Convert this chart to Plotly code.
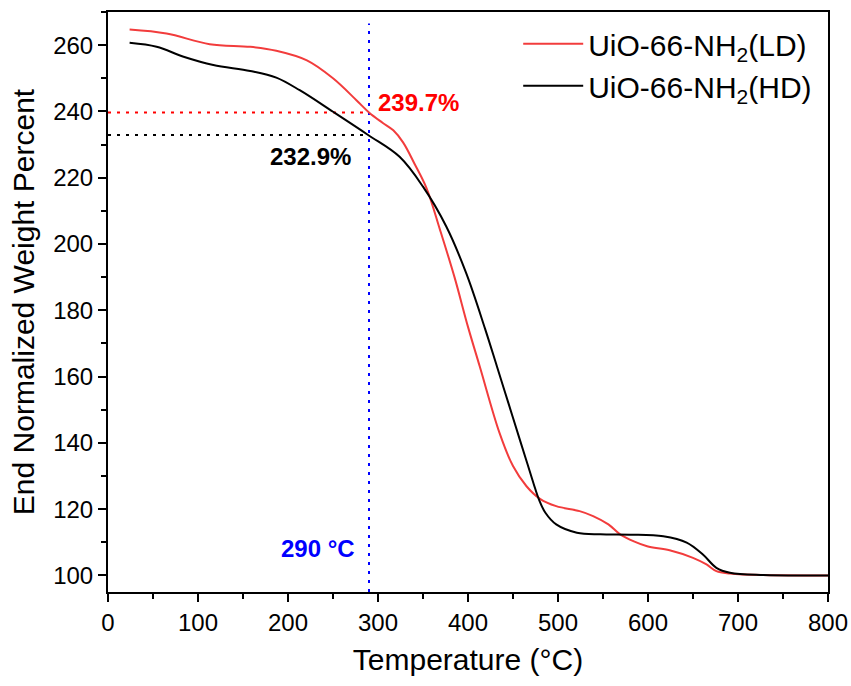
import plotly.graph_objects as go

# LD series (red)
ld_temp = [24, 65, 113, 158, 187, 221, 250, 276, 290, 305, 317, 328, 341, 354, 369, 385,
           400, 413, 435, 450, 465, 480, 498, 524, 539, 556, 569, 585, 599, 624, 650, 665,
           676, 691, 728, 800]
ld_weight = [264.7, 263.5, 260.3, 259.5, 258.3, 255.4, 250.0, 243.4, 239.7, 236.6, 234.3,
             230.6, 224.0, 216.8, 204.2, 190.0, 175.0, 163.1, 143.0, 133.0, 126.9, 123.1,
             120.9, 119.4, 117.9, 115.4, 112.4, 110.2, 108.8, 107.6, 105.3, 103.3, 101.3,
             100.6, 100.1, 100.0]

# HD series (black)
hd_temp = [24, 54, 84, 117, 158, 187, 213, 250, 289, 324, 350, 376, 398, 419, 432, 445,
           458, 466, 473, 479, 486, 498, 521, 547, 580, 617, 643, 661, 676, 691, 728, 800]
hd_weight = [260.7, 259.5, 256.5, 254.0, 252.2, 250.2, 246.4, 239.9, 232.9, 226.3, 217.3,
             205.2, 191.2, 174.4, 163.2, 151.9, 140.6, 133.7, 127.6, 122.8, 118.9, 115.4,
             112.9, 112.4, 112.3, 111.8, 109.9, 106.3, 102.3, 100.8, 100.1, 100.0]

series_names = ["UiO-66-NH<sub>2</sub>(LD)", "UiO-66-NH<sub>2</sub>(HD)"]

# reference markers
marker_temp = 290
ld_at_marker = 239.7
hd_at_marker = 232.9
x_range = [0, 800]
y_range = [95, 270]
vline_top = 266.5

FONT = "Arial, Liberation Sans, sans-serif"

fig = go.Figure()

# guide lines
fig.add_trace(go.Scatter(x=[x_range[0], marker_temp], y=[ld_at_marker, ld_at_marker],
                         mode="lines", line=dict(color="#FF0000", width=2, dash="3px,6px"),
                         showlegend=False, hoverinfo="skip"))
fig.add_trace(go.Scatter(x=[x_range[0], marker_temp], y=[hd_at_marker, hd_at_marker],
                         mode="lines", line=dict(color="#000000", width=2, dash="3px,6px"),
                         showlegend=False, hoverinfo="skip"))
fig.add_trace(go.Scatter(x=[marker_temp, marker_temp], y=[y_range[0], vline_top],
                         mode="lines", line=dict(color="#0000FF", width=2, dash="3px,6px"),
                         showlegend=False, hoverinfo="skip"))

fig.add_trace(go.Scatter(x=ld_temp, y=ld_weight, mode="lines", name=series_names[0],
                         line=dict(color="#F23C3C", width=2, shape="spline", smoothing=1.0)))
fig.add_trace(go.Scatter(x=hd_temp, y=hd_weight, mode="lines", name=series_names[1],
                         line=dict(color="#000000", width=2, shape="spline", smoothing=1.0)))

fig.add_annotation(x=297.5, y=242.7, text="<b>%.1f%%</b>" % ld_at_marker, showarrow=False,
                   xanchor="left", yanchor="middle",
                   font=dict(family=FONT, size=24, color="#FF0000"))
fig.add_annotation(x=272, y=226.5, text="<b>%.1f%%</b>" % hd_at_marker, showarrow=False,
                   xanchor="right", yanchor="middle",
                   font=dict(family=FONT, size=24, color="#000000"))
fig.add_annotation(x=276.5, y=108.1, text="<b>%d °C</b>" % marker_temp, showarrow=False,
                   xanchor="right", yanchor="middle",
                   font=dict(family=FONT, size=24, color="#0000FF"))

axis_common = dict(showgrid=False, zeroline=False, showline=True, linecolor="black",
                   linewidth=2, mirror=True, ticks="outside", ticklen=8, tickwidth=2,
                   tickcolor="black",
                   tickfont=dict(family=FONT, size=24, color="black"))

fig.update_layout(
    width=851, height=686,
    margin=dict(l=108, r=23, t=12, b=94, autoexpand=False),
    plot_bgcolor="white", paper_bgcolor="white",
    xaxis=dict(range=x_range, dtick=100,
               minor=dict(ticks="outside", ticklen=5, tickwidth=2, tickcolor="black", dtick=50),
               title=dict(text="Temperature (°C)", standoff=14,
                          font=dict(family=FONT, size=30, color="black")),
               **axis_common),
    yaxis=dict(range=y_range, tickvals=[100, 120, 140, 160, 180, 200, 220, 240, 260],
               minor=dict(ticks="outside", ticklen=5, tickwidth=2, tickcolor="black",
                          tickvals=[110, 130, 150, 170, 190, 210, 230, 250, 270]),
               title=dict(text="End Normalized Weight Percent", standoff=10,
                          font=dict(family=FONT, size=30, color="black")),
               **axis_common),
    legend=dict(x=0.985, y=0.99, xanchor="right", yanchor="top",
                bgcolor="rgba(0,0,0,0)", borderwidth=0,
                font=dict(family=FONT, size=30, color="black"),
                tracegroupgap=0, itemwidth=60),
    showlegend=True,
)

fig.write_html("out.html", config={"displayModeBar": False},
               post_script="document.body.style.margin='0';document.body.style.overflow='hidden';")
